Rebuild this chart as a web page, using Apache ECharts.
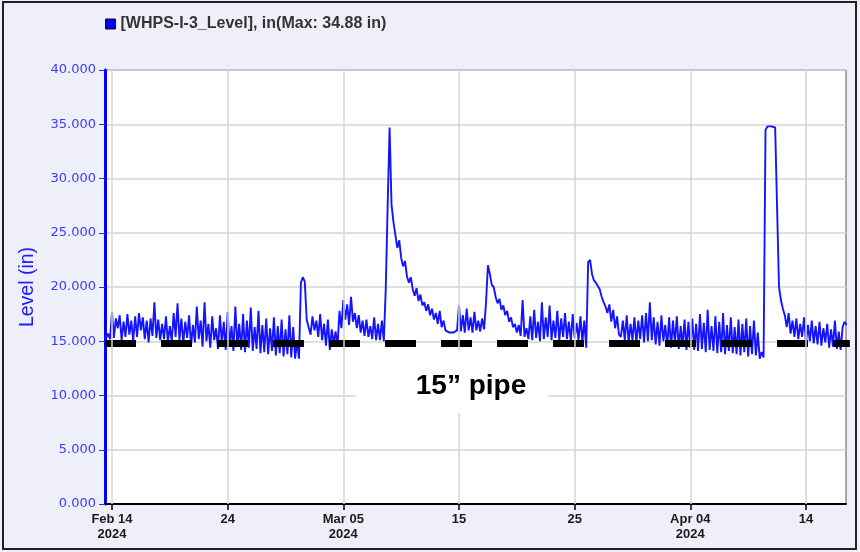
<!DOCTYPE html>
<html><head><meta charset="utf-8">
<script src="https://cdn.jsdelivr.net/npm/echarts@6/dist/echarts.min.js"></script>
<style>html,body{margin:0;padding:0;background:#efeffa;}#chart{width:860px;height:552px;}</style>
</head><body><div id="chart"></div>
<script>
// ---- data (4-hour readings) ----
const seriesName = '[WHPS-I-3_Level], in(Max: 34.88 in)';
const stepHours = 4;
const febStart = '2024-02-13T08:00';
const levelFeb = [
15.6,15.3,15.7,15.2,
17.7,15.3,17.1,16.2,17.4,15.1,
16.8,15.4,17.5,15.6,16.9,15.0,
17.3,15.4,17.6,16.0,17.2,15.2,
16.9,14.9,17.1,15.5,18.6,15.3,
17.0,15.1,16.6,15.2,17.3,14.9,
16.4,15.0,17.6,15.4,18.5,15.1,
17.1,14.8,16.8,15.3,17.4,14.6,
16.5,14.9,18.2,15.2,16.9,14.5,
18.6,15.0,16.6,14.4,17.3,15.1,
16.2,14.3,17.4,14.8,16.8,14.2,
17.7,14.6,16.4,14.1,18.2,14.5,
16.6,14.2,17.5,14.0,16.9,14.4,
18.1,14.1,16.3,14.3,17.8,13.9,
16.5,14.0,17.1,13.8,16.2,14.1,
17.2,13.7,16.4,13.9,17.0,13.6,
16.1,13.8,17.4,13.5,16.3,13.4
];
const marStart = '2024-03-01T00:00';
const levelMar = [
15.0,13.4,20.4,20.9,20.5,17.0,
16.3,15.6,17.3,16.0,16.9,15.4,
17.5,15.1,16.6,14.6,17.0,14.2,
16.1,14.8,15.9,14.5,17.8,16.2,
18.8,17.0,18.4,16.5,19.1,16.8,
17.6,16.2,17.4,15.8,16.9,15.5,
17.0,15.4,16.4,15.2,17.2,15.1,
16.6,15.1,16.9,15.0,19.8,27.5,
34.7,27.6,26.0,24.8,23.6,24.3,
22.7,21.9,22.4,21.0,20.4,20.9,
19.8,19.2,19.9,18.7,19.3,18.3,
18.6,17.8,18.4,17.4,18.0,17.0,
17.6,16.6,17.8,16.3,16.9,16.0,
15.9,15.8,15.9,15.8,15.9,16.0,
18.3,15.9,17.4,15.8,18.0,16.0,
17.2,15.8,17.7,16.0,16.9,15.9,
17.1,16.1,18.5,22.0,21.2,20.2,
20.0,19.1,18.5,18.9,17.9,18.3,
17.4,17.8,16.8,17.2,16.3,16.6,
15.8,16.5,15.5,18.8,15.4,16.2,
15.2,17.3,15.1,17.9,15.3,16.8,
15.0,18.6,15.2,17.2,15.4,18.3,
15.1,16.9,15.3,17.8,15.0,17.1,
15.4,17.6,15.2,16.8,15.0,17.5,
15.3,16.7,15.1,17.3,14.9,16.9,
14.4,22.3,22.5,21.2,20.6,20.4,
20.5,19.8,19.1,18.6,18.2,17.6,
18.4,16.8,17.9,16.2,17.3,15.6,
15.4,16.9,15.1,17.4,14.9,16.6,
15.1,17.2,14.8,16.9,15.2,17.4,
14.9,17.6,15.0,18.6,15.1,17.2
];
const aprStart = '2024-04-01T00:00';
const levelApr = [
14.7,16.8,14.6,17.4,15.0,16.5,
14.5,17.2,14.4,16.9,14.8,17.3,
14.3,16.4,14.5,17.0,14.2,16.8,
14.4,17.1,14.2,16.6,14.1,17.5,
14.3,16.7,14.0,17.9,14.2,16.4,
14.1,17.3,13.9,16.8,14.0,17.6,
13.8,16.5,14.1,17.2,13.9,16.3,
13.8,17.0,13.7,16.6,14.0,17.1,
13.6,16.4,13.8,16.9,13.7,15.8,
13.4,14.0,13.5,34.5,34.8,34.88,
34.8,34.85,34.7,34.6,20.0,18.8,
18.0,17.4,16.3,17.6,15.7,16.9,
15.4,17.1,15.2,16.6,15.4,17.2,
14.9,16.5,15.0,16.9,14.8,16.4,
14.7,16.8,14.6,16.2,14.9,16.6,
14.4,16.1,14.5,16.9,14.3,15.9,
14.2,16.3,16.8,16.5
];
const pipeLevel = 14.8;
const pipeLabel = '15\u201d pipe';
const axisStart = '2024-02-13T09:30';
const axisEnd = '2024-04-17T11:00';
const pipeEnd = '2024-04-17T19:00';
const tickDates = ['2024-02-14T00:00','2024-02-24T00:00','2024-03-05T00:00','2024-03-15T00:00','2024-03-25T00:00','2024-04-04T00:00','2024-04-14T00:00'];
const tickLabels = ['Feb 14\n2024','24','Mar 05\n2024','15','25','Apr 04\n2024','14'];
const yMin = 0, yMax = 40, yStep = 5;
const yAxisName = 'Level (in)';

// ---- build ----
const ms = s => Date.parse(s + ':00Z');
const H = 3600 * 1000;
function seg(start, vals) { const t0 = ms(start); return vals.map((v, i) => [t0 + i * stepHours * H, v]); }
const levelData = [].concat(seg(febStart, levelFeb), seg(marStart, levelMar), seg(aprStart, levelApr));
const tickMs = tickDates.map(ms);
const labelOf = {}; tickMs.forEach((t, i) => labelOf[t] = tickLabels[i]);

const chart = echarts.init(document.getElementById('chart'), null, { renderer: 'canvas' });
chart.setOption({
  animation: false,
  backgroundColor: '#efeffa',
  legend: {
    data: [seriesName], left: 100, top: 11, icon: 'rect', itemWidth: 10, itemHeight: 10, itemGap: 6,
    itemStyle: { color: '#0000ff', borderColor: '#111', borderWidth: 1 },
    textStyle: { color: '#333', fontSize: 16, fontWeight: 'bold', fontFamily: '"Liberation Sans", Arial, sans-serif' },
    selectedMode: false
  },
  grid: { left: 105, right: 14, top: 70, bottom: 48, show: true, backgroundColor: '#ffffff', borderColor: '#555', borderWidth: 1, outerBoundsMode: 'none' },
  xAxis: {
    type: 'value', min: ms(axisStart), max: ms(axisEnd),
    axisLine: { show: true, onZero: false, lineStyle: { color: '#000', width: 2 } },
    axisTick: { show: true, customValues: tickMs, length: 6, lineStyle: { color: '#000', width: 1.5 } },
    axisLabel: {
      customValues: tickMs, margin: 8, color: '#1a1a1a', fontSize: 13, fontWeight: 'bold', lineHeight: 15,
      fontFamily: '"Liberation Sans", Arial, sans-serif', formatter: v => labelOf[v] || ''
    },
    splitLine: { show: false }
  },
  yAxis: {
    type: 'value', min: yMin, max: yMax, interval: yStep,
    name: yAxisName, nameLocation: 'middle', nameGap: 67,
    nameTextStyle: { color: '#2020ff', fontSize: 19.5, fontFamily: '"Liberation Sans", Arial, sans-serif' },
    axisLine: { show: true, lineStyle: { color: '#0000ff', width: 3 } },
    axisTick: { show: true, length: 6, lineStyle: { color: '#2a2aff', width: 1 } },
    axisLabel: { margin: 9, color: '#3a3aff', fontSize: 13, fontFamily: '"DejaVu Sans", Verdana, sans-serif', formatter: v => v.toFixed(3) },
    splitLine: { show: true, lineStyle: { color: '#d4d4d4', width: 1.5 } }
  },
  series: [
    {
      name: 'grid-x', type: 'line', data: [], z: 1, silent: true,
      markLine: {
        silent: true, symbol: ['none', 'none'], label: { show: false }, animation: false,
        lineStyle: { color: '#d4d4d4', width: 1.5, type: 'solid' },
        data: tickMs.map(t => ({ xAxis: t }))
      }
    },
    {
      name: seriesName, type: 'line', data: levelData, showSymbol: false, symbol: 'none', z: 3,
      sampling: null, itemStyle: { color: '#0000ff' },
      lineStyle: { color: '#1414ff', width: 1.9 }
    },
    {
      name: 'pipe', type: 'line', data: [[ms(axisStart), pipeLevel], [ms(pipeEnd), pipeLevel]],
      clip: false, symbol: 'none', z: 4, silent: true,
      lineStyle: { color: '#000', width: 7, type: [31, 25], dashOffset: 0, cap: 'butt' }
    }
  ],
  graphic: [
    { type: 'rect', z: 100, shape: { x: 3, y: 2, width: 853, height: 547 }, style: { fill: 'none', stroke: '#222', lineWidth: 2 }, silent: true },
    { type: 'rect', z: 90, shape: { x: 356, y: 351, width: 192, height: 62 }, style: { fill: '#ffffff' }, silent: true },
    { type: 'text', z: 95, x: 471, y: 386, style: { text: pipeLabel, fill: '#000', font: 'bold 28px "Liberation Sans", Arial, sans-serif', align: 'center', verticalAlign: 'middle' }, silent: true }
  ]
});
</script></body></html>
